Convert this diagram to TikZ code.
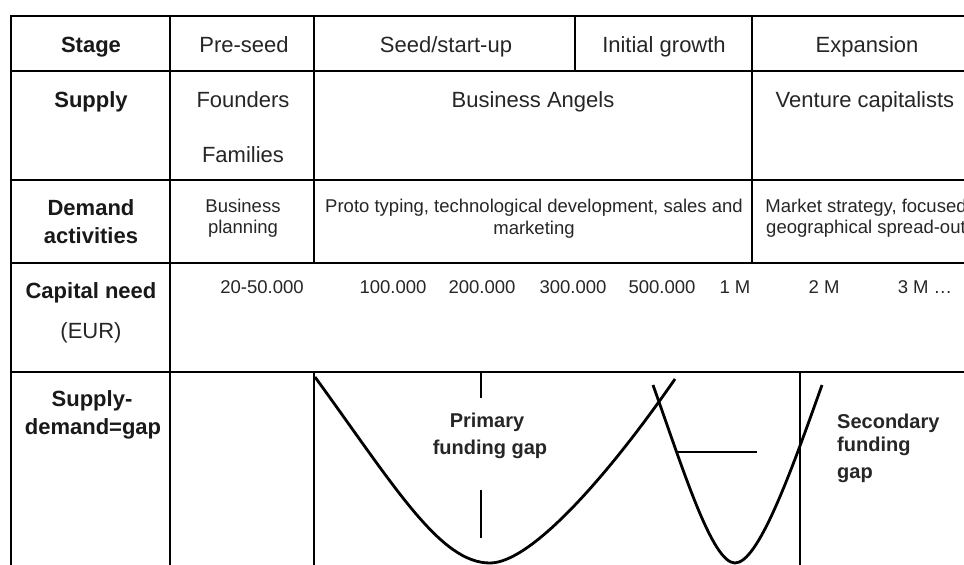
\documentclass[tikz,border=0pt]{standalone}
\usepackage{fontspec}
\setmainfont{Liberation Sans}
\begin{document}
\begin{tikzpicture}[x=1pt,y=-1pt,
  grid/.style={line width=2.8pt, line cap=rect},
  tickline/.style={line width=1.2pt},
  curve/.style={line width=2.8pt},
  hd/.style={font=\fontsize{22}{26}\selectfont\bfseries, anchor=base, inner sep=0pt, text=black!90},
  tx/.style={font=\fontsize{22}{26}\selectfont, anchor=base, inner sep=0pt, text=black!85},
  sm/.style={font=\fontsize{18.5}{22}\selectfont, anchor=base, inner sep=0pt, text=black!85},
  gl/.style={font=\fontsize{20}{24}\selectfont\bfseries, anchor=base, inner sep=0pt, text=black!85},
]
\useasboundingbox (0,0) rectangle (964,565);
\fill[white] (0,0) rectangle (964,565);
\clip (0,0) rectangle (964,565);

% horizontal rules
\draw[grid] (11,16) -- (975,16);
\draw[grid] (11,71) -- (975,71);
\draw[grid] (11,180) -- (975,180);
\draw[grid] (11,263) -- (975,263);
\draw[grid] (11,372) -- (975,372);
% vertical rules
\draw[grid] (11,16) -- (11,575);
\draw[grid] (170,16) -- (170,575);
\draw[grid] (314,16) -- (314,263);
\draw[grid] (314,372) -- (314,575);
\draw[grid] (575,16) -- (575,71);
\draw[grid] (752,16) -- (752,263);
\draw[grid] (800,372) -- (800,575);

% row 1
\node[hd] (stage) at (91,52) {Stage};
\node[tx] (preseed) at (244,52) {Pre-seed};
\node[tx] (seed) at (446,52) {Seed/start-up};
\node[tx] (initial) at (664,52) {Initial growth};
\node[tx] (expansion) at (867,52) {Expansion};
% row 2
\node[hd] (supply) at (91,107) {Supply};
\node[tx] (founders) at (243,107) {Founders};
\node[tx] (families) at (243,162) {Families};
\node[tx] (angels) at (533,107) {Business Angels};
\node[tx] (vc) at (865,107) {Venture capitalists};
% row 3
\node[hd] (demand1) at (91,215) {Demand};
\node[hd] (demand2) at (91,243) {activities};
\node[sm] (bp1) at (243,212) {Business};
\node[sm] (bp2) at (243,233) {planning};
\node[sm] (proto1) at (534,212) {Proto typing, technological development, sales and};
\node[sm] (proto2) at (534,234) {marketing};
\node[sm] (mkt1) at (866,212) {Market strategy, focused};
\node[sm] (mkt2) at (866,233) {geographical spread-out};
% row 4
\node[hd] (cap1) at (91,298) {Capital need};
\node[tx] (cap2) at (91,338) {(EUR)};
\node[sm] (n1) at (262,293) {20-50.000};
\node[sm] (n2) at (393,293) {100.000};
\node[sm] (n3) at (482,293) {200.000};
\node[sm] (n4) at (573,293) {300.000};
\node[sm] (n5) at (662,293) {500.000};
\node[sm] (n6) at (735,293) {1 M};
\node[sm] (n7) at (824,293) {2 M};
\node[sm] (n8) at (925,293) {3 M …};
% row 5
\node[hd] (gap1) at (92,406) {Supply-};
\node[hd] (gap2) at (93,434) {demand=gap};
\node[gl] (pg1) at (487,427) {Primary};
\node[gl] (pg2) at (490,454) {funding gap};
\node[gl, anchor=base west] (sg1) at (837,428) {Secondary};
\node[gl, anchor=base west] (sg2) at (837,451) {funding};
\node[gl, anchor=base west] (sg3) at (837,478) {gap};

% marks
\draw[tickline] (481,372) -- (481,398);
\draw[tickline] (481,490) -- (481,538);
\draw[tickline] (677,452) -- (757,452);

% curves
\draw[curve] (315,377) .. controls (395,487) and (440,563) .. (490,563)
  .. controls (530,563) and (605,480) .. (675,379);
\draw[curve] (653,385) .. controls (683,469) and (712,563) .. (735,563)
  .. controls (758,563) and (790,475) .. (822,385);
\end{tikzpicture}
\end{document}
